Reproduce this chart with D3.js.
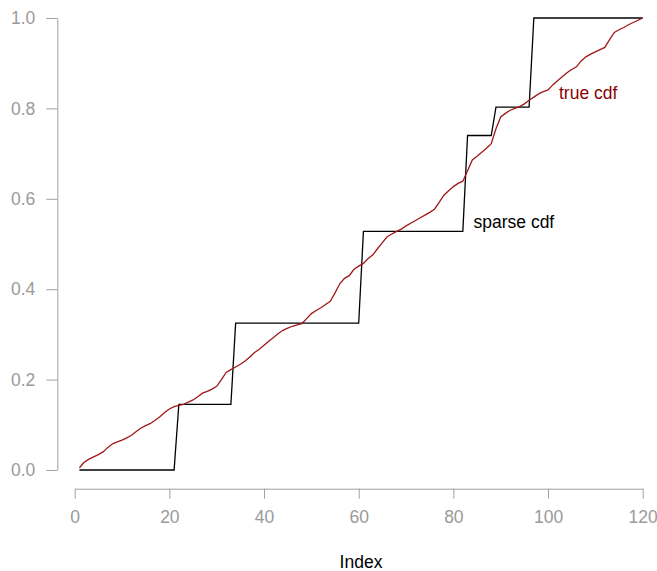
<!DOCTYPE html>
<html>
<head>
    <meta charset="utf-8">
    <title>sparse vs true cdf</title>
    <script src="https://cdn.jsdelivr.net/npm/d3@7"></script>
    <style type="text/css">
        body {
            margin: 0;
            background: #fff;
        }
        .axis path,
        .axis line {
            fill: none;
            stroke: #a0a0a0;
            stroke-width: 1;
        }
        .axis text {
            font-family: "Liberation Sans", Arial, sans-serif;
            font-size: 17.5px;
            fill: #9a9a9a;
        }
        .lbl {
            font-family: "Liberation Sans", Arial, sans-serif;
            font-size: 17.5px;
        }
    </style>
</head>
<body>
<div id="chart"></div>
<script type="text/javascript">
    var w = 657;
    var h = 571;

    // tick values
    var xTicks = [0, 20, 40, 60, 80, 100, 120];
    var yTicks = [0, 0.2, 0.4, 0.6, 0.8, 1.0];

    // sparse cdf: level reached at each step and index where it starts
    var stepStarts = [1, 22, 34, 61, 83, 89, 97];
    var stepLevels = [0, 0.145, 0.325, 0.528, 0.74, 0.803, 1.0];

    // true cdf, one value per index 1..120
    var trueCdf = [
        0.005, 0.017, 0.024, 0.029, 0.034, 0.040, 0.050, 0.058, 0.062, 0.066,
        0.071, 0.077, 0.085, 0.093, 0.098, 0.103, 0.110, 0.118, 0.127, 0.135,
        0.140, 0.143, 0.145, 0.150, 0.155, 0.162, 0.170, 0.174, 0.179, 0.185,
        0.200, 0.216, 0.222, 0.228, 0.234, 0.241, 0.250, 0.260, 0.267, 0.276,
        0.285, 0.293, 0.302, 0.309, 0.314, 0.318, 0.321, 0.324, 0.335, 0.346,
        0.353, 0.359, 0.366, 0.373, 0.392, 0.412, 0.424, 0.430, 0.444, 0.451,
        0.457, 0.468, 0.476, 0.490, 0.503, 0.516, 0.522, 0.528, 0.533, 0.540,
        0.546, 0.552, 0.558, 0.564, 0.570, 0.577, 0.592, 0.608, 0.618, 0.627,
        0.634, 0.639, 0.662, 0.686, 0.694, 0.703, 0.712, 0.722, 0.755, 0.781,
        0.789, 0.796, 0.800, 0.804, 0.810, 0.818, 0.825, 0.832, 0.837, 0.841,
        0.852, 0.861, 0.870, 0.879, 0.886, 0.892, 0.905, 0.914, 0.920, 0.925,
        0.930, 0.935, 0.952, 0.968, 0.974, 0.979, 0.985, 0.990, 0.995, 1.000
    ];

    // sparse cdf evaluated at every index (step function)
    var sparseCdf = trueCdf.map(function (d, i) {
        var idx = i + 1;
        var level = 0;
        for (var k = 0; k < stepStarts.length; k++) {
            if (idx >= stepStarts[k]) level = stepLevels[k];
        }
        return level;
    });

    var xScale = d3.scaleLinear()
        .domain([0, 120])
        .range([74.7, 642.7]);

    var yScale = d3.scaleLinear()
        .domain([0, 1])
        .range([470, 18]);

    var svg = d3.select("#chart")
        .append("svg")
        .attr("width", w)
        .attr("height", h);

    var xAxis = d3.axisBottom()
        .scale(xScale)
        .tickValues(xTicks)
        .tickSize(10)
        .tickSizeOuter(0)
        .tickPadding(12)
        .tickFormat(d3.format("d"));

    var yAxis = d3.axisLeft()
        .scale(yScale)
        .tickValues(yTicks)
        .tickSize(11)
        .tickSizeOuter(0)
        .tickPadding(11)
        .tickFormat(d3.format(".1f"));

    svg.append("g")
        .attr("class", "x axis")
        .attr("transform", "translate(0," + 488.7 + ")")
        .call(xAxis);

    svg.append("g")
        .attr("class", "y axis")
        .attr("transform", "translate(" + 57.3 + ",0)")
        .call(yAxis);

    var line = d3.line()
        .x(function (d, i) { return xScale(i + 1); })
        .y(function (d) { return yScale(d); });

    svg.append("path")
        .datum(sparseCdf)
        .attr("d", line)
        .attr("fill", "none")
        .attr("stroke", "#000")
        .attr("stroke-width", 1.3);

    svg.append("path")
        .datum(trueCdf)
        .attr("d", line)
        .attr("fill", "none")
        .attr("stroke", "#a01818")
        .attr("stroke-width", 1.3);

    svg.append("text")
        .attr("class", "lbl")
        .attr("x", 473.5)
        .attr("y", 228)
        .attr("fill", "#000")
        .text("sparse cdf");

    svg.append("text")
        .attr("class", "lbl")
        .attr("x", 559)
        .attr("y", 98.5)
        .attr("fill", "#8b0000")
        .text("true cdf");

    svg.append("text")
        .attr("class", "lbl")
        .attr("x", 361)
        .attr("y", 567.5)
        .attr("text-anchor", "middle")
        .attr("fill", "#000")
        .text("Index");
</script>
</body>
</html>
